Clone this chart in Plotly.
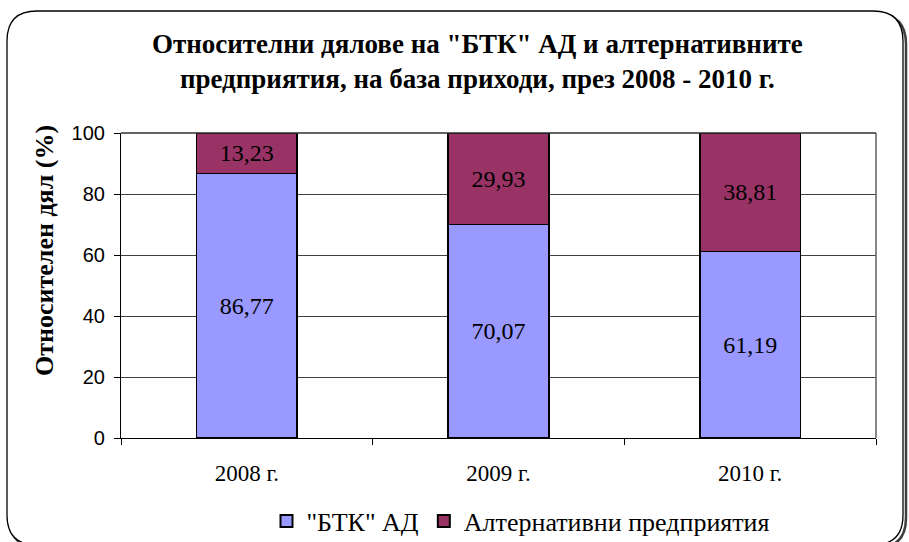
import plotly.graph_objects as go

categories = ["2008 г.", "2009 г.", "2010 г."]
btk_values = [86.77, 70.07, 61.19]
alt_values = [13.23, 29.93, 38.81]
series_names = ['"БТК" АД', "Алтернативни предприятия"]
y_ticks = [0, 20, 40, 60, 80, 100]

W, H = 909, 542
ML, MR, MT, MB = 121, 33, 133, 104
PW, PH = W - ML - MR, H - MT - MB

def px(x):
    return (x - ML) / PW

def py(y):
    return (H - MB - y) / PH

def fmt(v):
    return f"{v:.2f}".replace(".", ",")

SERIF = "Liberation Serif"
SANS = "Liberation Sans"

fig = go.Figure()
fig.add_trace(go.Bar(
    x=categories, y=btk_values, name=series_names[0],
    marker=dict(color="#9999FF", line=dict(color="black", width=1.5)),
    text=[fmt(v) for v in btk_values], textposition="inside",
    insidetextanchor="middle", textangle=0,
    textfont=dict(family=SERIF, size=24, color="black"),
))
fig.add_trace(go.Bar(
    x=categories, y=alt_values, name=series_names[1],
    marker=dict(color="#993366", line=dict(color="black", width=1.5)),
    text=[fmt(v) for v in alt_values], textposition="inside",
    insidetextanchor="middle", textangle=0,
    textfont=dict(family=SERIF, size=24, color="black"),
))

def rrect(x0, y0, x1, y1, r):
    pts = [
        f"M {px(x0+r)},{py(y0)}",
        f"L {px(x1-r)},{py(y0)}",
        f"Q {px(x1)},{py(y0)} {px(x1)},{py(y0+r)}",
        f"L {px(x1)},{py(y1-r)}",
        f"Q {px(x1)},{py(y1)} {px(x1-r)},{py(y1)}",
        f"L {px(x0+r)},{py(y1)}",
        f"Q {px(x0)},{py(y1)} {px(x0)},{py(y1-r)}",
        f"L {px(x0)},{py(y0+r)}",
        f"Q {px(x0)},{py(y0)} {px(x0+r)},{py(y0)}",
        "Z",
    ]
    return " ".join(pts)

shapes = [
    dict(type="path", xref="paper", yref="paper",
         path=rrect(10, 14, 906, 548, 30),
         line=dict(color="#404040", width=2.5), layer="below"),
    dict(type="path", xref="paper", yref="paper",
         path=rrect(7, 11, 903, 545, 30),
         line=dict(color="black", width=1.3), fillcolor="white", layer="below"),
    dict(type="line", xref="paper", yref="paper", x0=1, x1=1, y0=0, y1=1,
         line=dict(color="#606060", width=1.5)),
    dict(type="line", xref="paper", yref="paper", x0=0, x1=1, y0=1, y1=1,
         line=dict(color="#303030", width=1.5)),
]

title_lines = ['Относителни дялове на "БТК" АД и алтернативните',
               'предприятия, на база приходи, през 2008 - 2010 г.']
annotations = [
    dict(text="<br>".join(f"<b>{t}</b>" for t in title_lines),
         xref="paper", yref="paper", x=px(477), y=py(61),
         xanchor="center", yanchor="middle", showarrow=False,
         font=dict(family=SERIF, size=27, color="black")),
    dict(text="<b>Относителен дял (%)</b>",
         xref="paper", yref="paper", x=px(44), y=py(251),
         xanchor="center", yanchor="middle", showarrow=False, textangle=-90,
         font=dict(family=SERIF, size=26, color="black")),
]

fig.update_layout(
    template="none",
    width=W, height=H,
    margin=dict(l=ML, r=MR, t=MT, b=MB, pad=0, autoexpand=False),
    barmode="stack", bargap=0.6,
    paper_bgcolor="white", plot_bgcolor="#C0C0C0",
    showlegend=True,
    legend=dict(orientation="h", xref="container", yref="container",
                x=521 / W, y=(H - 521) / H, xanchor="center", yanchor="middle",
                font=dict(family=SERIF, size=26, color="black"),
                itemsizing="constant", traceorder="normal", bgcolor="rgba(0,0,0,0)"),
    shapes=shapes, annotations=annotations,
    xaxis=dict(type="category", tickson="boundaries", ticks="outside", ticklen=6,
               tickcolor="black", showline=True, linecolor="black", linewidth=1.2,
               showgrid=False, ticklabelstandoff=14, automargin=False,
               tickfont=dict(family=SERIF, size=23, color="black")),
    yaxis=dict(range=[0, 100], tickvals=y_ticks, ticks="outside", ticklen=6,
               tickcolor="black", showline=True, linecolor="black", linewidth=1.2,
               showgrid=True, gridcolor="#404040", gridwidth=1.2, ticklabelstandoff=5,
               automargin=False,
               tickfont=dict(family=SANS, size=20, color="black"), zeroline=False),
)

fig.write_html("out.html", config={"displayModeBar": False},
               post_script="document.body.style.margin='0';document.body.style.padding='0';")
